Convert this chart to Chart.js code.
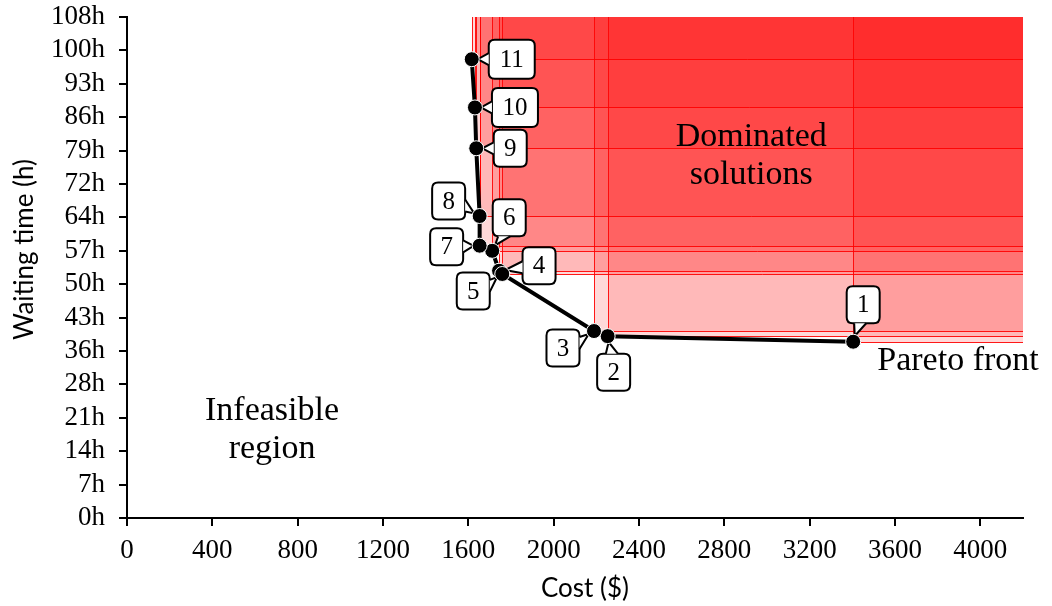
<!DOCTYPE html>
<html>
<head>
<meta charset="utf-8">
<script src="https://cdn.jsdelivr.net/npm/chart.js@4/dist/chart.umd.min.js"></script>
<style>
  html, body { margin: 0; padding: 0; background: #ffffff; }
  #wrap { width: 1052px; height: 606px; }
</style>
</head>
<body>
<div id="wrap"><canvas id="chart" width="1052" height="606"></canvas></div>
<script>
// Candidate solutions on the Pareto front (index = solution number - 1)
const solutionIds = ['1', '2', '3', '4', '5', '6', '7', '8', '9', '10', '11'];
const costs = [3404, 2253, 2189, 1744, 1759, 1712, 1653, 1653, 1637, 1631, 1616];
const hours = [38.0, 39.2, 40.3, 53.3, 52.6, 57.6, 58.7, 65.1, 79.7, 88.5, 98.9];

// Axis ticks
const xTickValues = [0, 400, 800, 1200, 1600, 2000, 2400, 2800, 3200, 3600, 4000];
const yTickValues = [0, 7.2, 14.4, 21.6, 28.8, 36, 43.2, 50.4, 57.6, 64.8, 72, 79.2, 86.4, 93.6, 100.8, 108];
const yTickLabels = ['0h', '7h', '14h', '21h', '28h', '36h', '43h', '50h', '57h', '64h', '72h', '79h', '86h', '93h', '100h', '108h'];

// Axis extents
const xMin = 0, xMax = 4200;
const yMin = 0, yMax = 108;

// Callout box offsets (px) from each solution marker
const calloutOffsets = [
  [10, -37], [6, 36], [-31, 17], [40, -5], [-29, 17], [17, -33],
  [-33, 1], [-31, -15], [34, 0], [40, 0], [40, 0]
];

const SERIF = '"Liberation Serif", "DejaVu Serif", serif';
const SANS = 'Lato, "Open Sans", sans-serif';

const points = costs.map((c, i) => ({ x: c, y: hours[i] }));
// the front is traced from the longest waiting time down to the shortest
const frontLine = points.slice().sort((a, b) => b.y - a.y);

// Shaded region dominated by each solution
const dominatedRegion = {
  id: 'dominatedRegion',
  beforeDatasetsDraw(chart) {
    const { ctx, chartArea: a, scales: { x, y } } = chart;
    ctx.save();
    points.forEach(p => {
      const px = Math.round(x.getPixelForValue(p.x)) + 0.5;
      const py = Math.round(y.getPixelForValue(p.y)) + 0.5;
      ctx.fillStyle = 'rgba(255, 0, 0, 0.15)';
      ctx.fillRect(px, a.top, a.right - px, py - a.top);
      ctx.strokeStyle = 'rgba(255, 0, 0, 0.9)';
      ctx.lineWidth = 1;
      ctx.beginPath();
      ctx.moveTo(px, a.top);
      ctx.lineTo(px, py);
      ctx.lineTo(a.right, py);
      ctx.stroke();
    });
    ctx.restore();
  }
};

function roundRectPath(ctx, x, y, w, h, r) {
  ctx.beginPath();
  ctx.moveTo(x + r, y);
  ctx.lineTo(x + w - r, y);
  ctx.quadraticCurveTo(x + w, y, x + w, y + r);
  ctx.lineTo(x + w, y + h - r);
  ctx.quadraticCurveTo(x + w, y + h, x + w - r, y + h);
  ctx.lineTo(x + r, y + h);
  ctx.quadraticCurveTo(x, y + h, x, y + h - r);
  ctx.lineTo(x, y + r);
  ctx.quadraticCurveTo(x, y, x + r, y);
  ctx.closePath();
}

// Numbered callouts next to each solution
const callouts = {
  id: 'callouts',
  beforeDatasetsDraw(chart) {
    const { ctx, scales: { x, y } } = chart;
    ctx.save();
    ctx.font = '25px ' + SERIF;
    ctx.textAlign = 'center';
    ctx.textBaseline = 'middle';
    points.forEach((p, i) => {
      const px = x.getPixelForValue(p.x);
      const py = y.getPixelForValue(p.y);
      const [dx, dy] = calloutOffsets[i];
      const cx = px + dx, cy = py + dy;
      const label = solutionIds[i];
      const w = label.length > 1 ? 46 : 33;
      const h = label.length > 1 ? 39 : 37;
      const bx = cx - w / 2, by = cy - h / 2;
      // tail tip just touching the marker
      const vx = cx - px, vy = cy - py;
      const len = Math.hypot(vx, vy) || 1;
      const tipX = px + vx / len * 6, tipY = py + vy / len * 6;
      // tail base on the box edge facing the marker
      let b1, b2;
      if (Math.abs(dx) * h > Math.abs(dy) * w) {
        const ex = dx > 0 ? bx : bx + w;
        const ey = Math.min(Math.max(cy - dy * 0.3, by + 8), by + h - 8);
        b1 = [ex, ey - 6]; b2 = [ex, ey + 6];
      } else {
        const ey = dy > 0 ? by : by + h;
        const ex = Math.min(Math.max(cx - dx * 0.3, bx + 8), bx + w - 8);
        b1 = [ex - 6, ey]; b2 = [ex + 6, ey];
      }
      ctx.lineWidth = 2;
      ctx.strokeStyle = '#000';
      ctx.fillStyle = '#fff';
      roundRectPath(ctx, bx, by, w, h, 6);
      ctx.fill();
      ctx.stroke();
      ctx.beginPath();
      ctx.moveTo(b1[0], b1[1]);
      ctx.lineTo(tipX, tipY);
      ctx.lineTo(b2[0], b2[1]);
      ctx.closePath();
      ctx.fill();
      ctx.beginPath();
      ctx.moveTo(b1[0], b1[1]);
      ctx.lineTo(tipX, tipY);
      ctx.lineTo(b2[0], b2[1]);
      ctx.stroke();
      ctx.fillStyle = '#000';
      ctx.fillText(label, cx, cy + 1);
    });
    ctx.restore();
  }
};

// Region annotations and axis titles
const annotations = {
  id: 'annotations',
  afterDraw(chart) {
    const { ctx, chartArea: a, scales: { x, y } } = chart;
    ctx.save();
    ctx.fillStyle = '#000';
    ctx.font = '34px ' + SERIF;
    ctx.textBaseline = 'middle';
    ctx.textAlign = 'center';
    const dX = x.getPixelForValue(2926), dY = y.getPixelForValue(78);
    ctx.fillText('Dominated', dX, dY - 19);
    ctx.fillText('solutions', dX, dY + 19);
    const iX = x.getPixelForValue(680), iY = y.getPixelForValue(19);
    ctx.fillText('Infeasible', iX, iY - 19);
    ctx.fillText('region', iX, iY + 19);
    ctx.textAlign = 'left';
    ctx.fillText('Pareto front', x.getPixelForValue(3517), y.getPixelForValue(33.8));

    ctx.font = '26px ' + SANS;
    ctx.textAlign = 'center';
    ctx.fillText('Cost ($)', (a.left + a.right) / 2 + 10, 589);
    ctx.translate(25, (a.top + a.bottom) / 2 - 18);
    ctx.rotate(-Math.PI / 2);
    ctx.fillText('Waiting time (h)', 0, 0);
    ctx.restore();
  }
};

new Chart(document.getElementById('chart'), {
  type: 'scatter',
  data: {
    datasets: [
      {
        label: 'Pareto front',
        data: points,
        showLine: false,
        pointRadius: 7.5,
        pointHoverRadius: 7.5,
        pointBackgroundColor: '#000',
        pointBorderColor: '#fff',
        pointBorderWidth: 1,
        order: 0
      },
      {
        label: 'Front line',
        data: frontLine,
        showLine: true,
        borderColor: '#000',
        borderWidth: 4,
        pointRadius: 0,
        order: 1
      }
    ]
  },
  options: {
    responsive: false,
    animation: false,
    devicePixelRatio: 1,
    layout: { padding: { top: 17, right: 29, left: 0, bottom: 0 } },
    plugins: {
      legend: { display: false },
      tooltip: { enabled: false }
    },
    scales: {
      x: {
        type: 'linear',
        min: xMin,
        max: xMax,
        afterBuildTicks(scale) { scale.ticks = xTickValues.map(v => ({ value: v })); },
        afterFit(scale) {
          scale.height = 88;
          scale.paddingLeft = 0;
          scale.paddingRight = 0;
        },
        grid: { drawOnChartArea: false, drawTicks: true, tickLength: 8, color: '#000', lineWidth: 2 },
        border: { color: '#000', width: 2 },
        ticks: {
          color: '#000',
          font: { family: SERIF, size: 27 },
          padding: 9,
          maxRotation: 0,
          autoSkip: false,
          callback: v => String(v)
        }
      },
      y: {
        type: 'linear',
        min: yMin,
        max: yMax,
        afterBuildTicks(scale) { scale.ticks = yTickValues.map(v => ({ value: v })); },
        afterFit(scale) {
          scale.width = 127;
          scale.paddingTop = 0;
          scale.paddingBottom = 0;
        },
        grid: { drawOnChartArea: false, drawTicks: true, tickLength: 8, color: '#000', lineWidth: 2 },
        border: { color: '#000', width: 2 },
        ticks: {
          color: '#000',
          font: { family: SERIF, size: 27 },
          padding: 14,
          autoSkip: false,
          callback: (v, i) => yTickLabels[i]
        }
      }
    }
  },
  plugins: [dominatedRegion, callouts, annotations]
});
</script>
</body>
</html>
